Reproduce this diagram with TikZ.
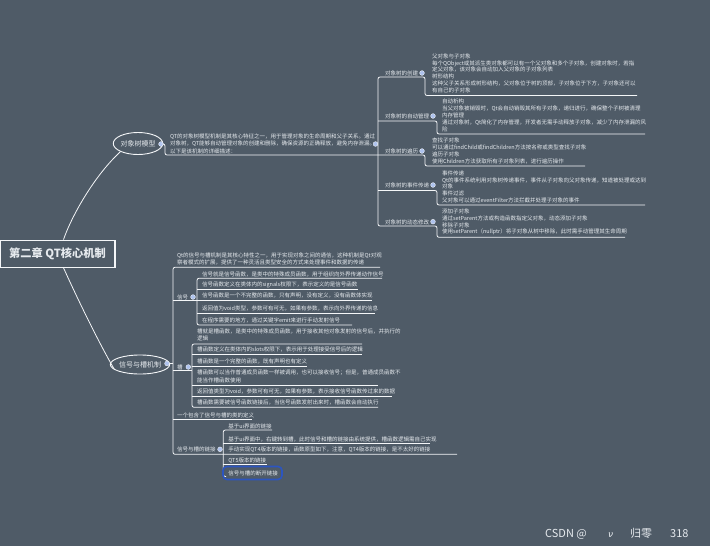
\documentclass[tikz,border=0pt]{standalone}
\usepackage{fontspec}
\setmainfont{Noto Sans CJK SC}
\newfontfamily\dejavu{DejaVu Sans}
\usetikzlibrary{shapes.geometric}
\definecolor{bgC}{HTML}{4F5B67}
\definecolor{fg}{HTML}{E6EAEE}
\definecolor{lineC}{HTML}{F4F6F8}
\definecolor{dotC}{HTML}{AFC3EE}
\definecolor{selC}{HTML}{2C55C0}
\begin{document}
\begin{tikzpicture}[x=1pt,y=-1pt,
  txt/.style={anchor=base west, inner sep=0pt, outer sep=0pt, align=left, text=fg, font=\fontsize{5.5}{6.9}\selectfont},
  lbl/.style={anchor=base west, inner sep=0pt, outer sep=0pt, text=fg, font=\fontsize{5.5}{6.9}\selectfont},
  ln/.style={draw=lineC, line width=0.8pt, rounded corners=2pt},
  dotn/.style={circle, fill=dotC, draw=lineC, line width=0.3pt, minimum size=4.8pt, inner sep=0pt},
  topic/.style={ellipse, draw=lineC, line width=0.9pt, text=fg, inner sep=0pt, font=\fontsize{7}{8}\selectfont},
  wmk/.style={anchor=base west, inner sep=0pt, text=fg, font=\fontsize{11}{12}\selectfont}
]
\fill[bgC] (0,0) rectangle (710,546);
\useasboundingbox (0,0) rectangle (710,546);

% ---------- root ----------
\node[draw=lineC, line width=1.2pt, text=fg, font=\fontsize{11.2}{13}\bfseries, minimum width=115pt, minimum height=27pt, inner sep=0pt] (root) at (57.5,253.7) {第二章 QT核心机制};

% ---------- topic 1 ----------
\node[topic, minimum width=44pt, minimum height=22pt] (e1) at (138,143.5) {对象树模型};
\node[dotn] (d1) at (161,144) {};
\draw[ln, rounded corners=0pt] ([xshift=6pt]root.north) .. controls (72,215) and (95,175) .. (e1.205);

\node[txt, font=\fontsize{5.5}{7.3}\selectfont] (desc1) at (170,153) {QT的对象树模型机制是其核心特征之一，用于管理对象的生命周期和父子关系。通过\\对象树，QT能够自动管理对象的创建和删除，确保资源的正确释放，避免内存泄漏。\\以下是该机制的详细描述：};
\draw[ln] (d1) -- (165,144) -- (165,155) -- (425,155) -- (425,166) -- (585,166);
\node[dotn] (d1b) at (375.5,144) {};

% right spine
\draw[ln] (637,95.5) -- (425,95.5) -- (425,77) -- (378,77) -- (378,226) -- (437,226) -- (437,237.3) -- (625,237.3);
\draw[ln] (378,121) -- (437,121) -- (437,134) -- (645,134);
\draw[ln] (378,190.5) -- (437,190.5) -- (437,205) -- (645,205);

\node[lbl] (l1) at (385,75.3) {对象树的创建};
\node[dotn] (dl1) at (422,73) {};
\node[txt] (b1) at (432,92.6) {父对象与子对象\\每个QObject或其派生类对象都可以有一个父对象和多个子对象，创建对象时，若指\\定父对象，该对象会自动加入父对象的子对象列表\\树形结构\\这种父子关系形成树形结构，父对象位于树的顶部，子对象位于下方，子对象还可以\\有自己的子对象};

\node[lbl] (l2) at (385,118) {对象树的自动管理};
\node[dotn] (dl2) at (433,116) {};
\node[txt] (b2) at (442,131.1) {自动析构\\当父对象被销毁时，Qt会自动销毁其所有子对象，递归进行，确保整个子树被清理\\内存管理\\通过对象树，Qt简化了内存管理，开发者无需手动释放子对象，减少了内存泄漏的风\\险};

\node[lbl] (l3) at (385,153) {对象树的遍历};
\node[dotn] (dl3) at (422,151) {};
\node[txt] (b3) at (432,163.2) {查找子对象\\可以通过findChild或findChildren方法按名称或类型查找子对象\\遍历子对象\\使用Children方法获取所有子对象列表，进行遍历操作};

\node[lbl] (l4) at (385,187.3) {对象树的事件传递};
\node[dotn] (dl4) at (433,185) {};
\node[txt, font=\fontsize{5.5}{6.7}\selectfont] (b4) at (442,202.2) {事件传递\\Qt的事件系统利用对象树传递事件，事件从子对象向父对象传递，知道被处理或达到\\对象\\事件过滤\\父对象可以通过eventFilter方法拦截并处理子对象的事件};

\node[lbl] (l5) at (385,224) {对象树的动态修改};
\node[dotn] (dl5) at (433,221.7) {};
\node[txt, font=\fontsize{5.5}{6.7}\selectfont] (b5) at (442,233.9) {添加子对象\\通过setParent方法或构造函数指定父对象，动态添加子对象\\移除子对象\\使用setParent（nullptr）将子对象从树中移除，此时需手动管理其生命周期};

% ---------- topic 2 ----------
\node[topic, minimum width=50pt, minimum height=19pt] (e2) at (140,364.5) {信号与槽机制};
\node[dotn] (d2) at (167,363.5) {};
\draw[ln, rounded corners=0pt] ([xshift=6pt]root.south) .. controls (78,300) and (100,345) .. (e2.192);
\draw[ln] (d2) -- (173,363.5);

% main left spine
\draw[ln] (380,267.3) -- (173,267.3) -- (173,454.3) -- (457,454.3);
\node[txt, font=\fontsize{5.5}{7.3}\selectfont] (desc2) at (177,264.4) {Qt的信号与槽机制是其核心特性之一，用于实现对象之间的通信，这种机制是Qt对观\\察者模式的扩展，提供了一种灵活且类型安全的方式来处理事件和数据的传递};

% 信号
\node[lbl] (sig) at (177,299) {信号};
\node[dotn] (dsig) at (193,297) {};
\draw[ln] (382,278.3) -- (197,278.3) -- (197,325) -- (352,325);
\draw[ln] (173,300.7) -- (372,300.7);
\draw[ln] (197,289.3) -- (358,289.3);
\draw[ln] (197,313.3) -- (375,313.3);
\node[txt] (sc1) at (202,276) {信号就是信号函数，是类中的特殊成员函数，用于组织向外界传递动作信号};
\node[txt] (sc2) at (202,286.5) {信号函数定义在类体内的signals权限下，表示定义的是信号函数};
\node[txt] (sc3) at (202,297.2) {信号函数是一个不完整的函数，只有声明，没有定义，没有函数体实现};
\node[txt] (sc4) at (202,310.5) {返回值为void类型，参数可有可无，如果有参数，表示向外界传递的信息};
\node[txt] (sc5) at (202,322.2) {在程序需要的地方，通过关键字emit来进行手动发射信号};

% 槽
\node[lbl] (slot) at (177,369) {槽};
\node[dotn] (dslot) at (188.3,367) {};
\draw[ln] (362,344) -- (192,344) -- (192,407.3) -- (378,407.3);
\draw[ln] (173,370.5) -- (192,370.5);
\draw[ln] (192,354.3) -- (362,354.3);
\draw[ln] (192,366) -- (307,366);
\draw[ln] (192,385) -- (378,385);
\draw[ln] (192,396) -- (392,396);
\node[txt, font=\fontsize{5.5}{6.7}\selectfont] (t1) at (197,340.4) {槽就是槽函数，是类中的特殊成员函数，用于接收其他对象发射的信号后，并执行的\\逻辑};
\node[txt] (t2) at (197,351.5) {槽函数定义在类体内的slots权限下，表示用于处理接受信号后的逻辑};
\node[txt] (t3) at (197,363.8) {槽函数是一个完整的函数，既有声明也有定义};
\node[txt, font=\fontsize{5.5}{7.2}\selectfont] (t4) at (197,382) {槽函数可以当作普通成员函数一样被调用，也可以接收信号；但是，普通成员函数不\\能当作槽函数使用};
\node[txt] (t5) at (197,393.2) {返回值类型为void，参数可有可无，如果有参数，表示接收信号函数传过来的数据};
\node[txt] (t6) at (197,404.8) {槽函数需要被信号函数链接后，当信号函数发射出来时，槽函数会自动执行};

% 类定义
\node[txt] (cls) at (177,417) {一个包含了信号与槽的类的定义};
\draw[ln] (173,419.3) -- (252,419.3);

% 链接
\node[lbl] (lnk) at (177,451.5) {信号与槽的链接};
\node[dotn] (dlnk) at (220,449.3) {};
\draw[ln] (272,430) -- (223.3,430) -- (223.3,476.5) -- (226,476.5);
\draw[ln] (223.3,443.3) -- (430,443.3);
\draw[ln] (223.3,464.3) -- (267,464.3);
\node[txt] (k1) at (228.3,428) {基于ui界面的链接};
\node[txt] (k2) at (228.3,441.2) {基于ui界面中，右键转到槽，此时信号和槽的链接由系统提供，槽函数逻辑需自己实现};
\node[txt] (k3) at (228.3,451.7) {手动实现QT4版本的链接，函数原型如下，注意，QT4版本的链接，是不太好的链接};
\node[txt] (k4) at (228.3,462.2) {QT5版本的链接};
\node[txt] (k5) at (228.3,475.3) {信号与槽的断开链接};
\draw[draw=selC, line width=1.6pt, rounded corners=4pt] (223,466.5) rectangle (282,479.5);

% watermark
\node[wmk] (wm1) at (545,537) {CSDN @};
\node[wmk, font=\dejavu\itshape\fontsize{9}{10}\selectfont] (wm2) at (608,537.5) {ν};
\node[wmk] (wm3) at (630,537.5) {归零};
\node[wmk] (wm4) at (670,537) {318};
\end{tikzpicture}
\end{document}
